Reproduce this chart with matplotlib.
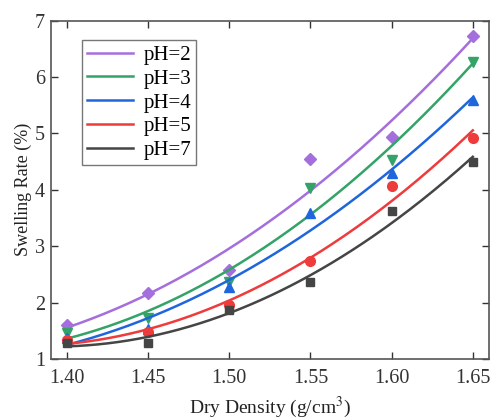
import numpy as np
import matplotlib
matplotlib.use("Agg")
import matplotlib.pyplot as plt

plt.rcParams['font.family'] = ['Liberation Serif', 'DejaVu Serif']
plt.rcParams['mathtext.fontset'] = 'stix'

# dry density (g/cm3)
density = [1.40, 1.45, 1.50, 1.55, 1.60, 1.65]

# swelling rate (%)
ph_labels = ['pH=2', 'pH=3', 'pH=4', 'pH=5', 'pH=7']
swell_ph2 = [1.60, 2.18, 2.58, 4.54, 4.94, 6.73]
swell_ph3 = [1.46, 1.72, 2.37, 4.03, 4.53, 6.27]
swell_ph4 = [1.38, 1.53, 2.27, 3.59, 4.29, 5.60]
swell_ph5 = [1.33, 1.48, 1.96, 2.73, 4.07, 4.92]
swell_ph7 = [1.29, 1.28, 1.87, 2.37, 3.62, 4.49]

colors = ['#A56EDD', '#33A367', '#1F66DC', '#EE3B3B', '#454545']
markers = ['D', 'v', '^', 'o', 's']
msizes = [6, 7, 7, 7, 6]

fig = plt.figure(figsize=(4.92, 4.20), dpi=100)
ax = fig.add_axes([0.103, 0.145, 0.891, 0.806])

series = [swell_ph2, swell_ph3, swell_ph4, swell_ph5, swell_ph7]
xs = np.linspace(1.40, 1.65, 200)
for vals, lab, c, m, ms in zip(series, ph_labels, colors, markers, msizes):
    coef = np.polyfit(density, vals, 2)
    ax.plot(xs, np.polyval(coef, xs), color=c, lw=1.8, label=lab)
    ax.plot(density, vals, linestyle='none', marker=m, color=c, ms=ms)

ax.set_xlim(1.390, 1.660)
ax.set_ylim(1, 7)
ax.set_xticks(density)
ax.set_xticklabels(['%.2f' % d for d in density])
ax.set_yticks([1, 2, 3, 4, 5, 6, 7])
ax.tick_params(direction='in', length=5, width=1, colors='#333333', labelsize=14.5,
               top=True, right=True, labeltop=False, labelright=False, pad=7)
ax.tick_params(axis='y', pad=4)
for s in ax.spines.values():
    s.set_color('#555555')
    s.set_linewidth(1.2)

ax.set_xlabel('Dry Density (g/cm$^3$)', fontsize=14, labelpad=5, color='#222222')
ax.set_ylabel('Swelling Rate (%)', fontsize=13, labelpad=2, color='#222222')

leg = ax.legend(loc='upper left', bbox_to_anchor=(0.071, 0.942), fontsize=15,
                fancybox=False, edgecolor='#555555', handlelength=2.2,
                borderpad=0.25, labelspacing=0.2, handletextpad=0.5,
                borderaxespad=0)
leg.get_frame().set_linewidth(1.0)

fig.savefig('out.png', dpi=100)
